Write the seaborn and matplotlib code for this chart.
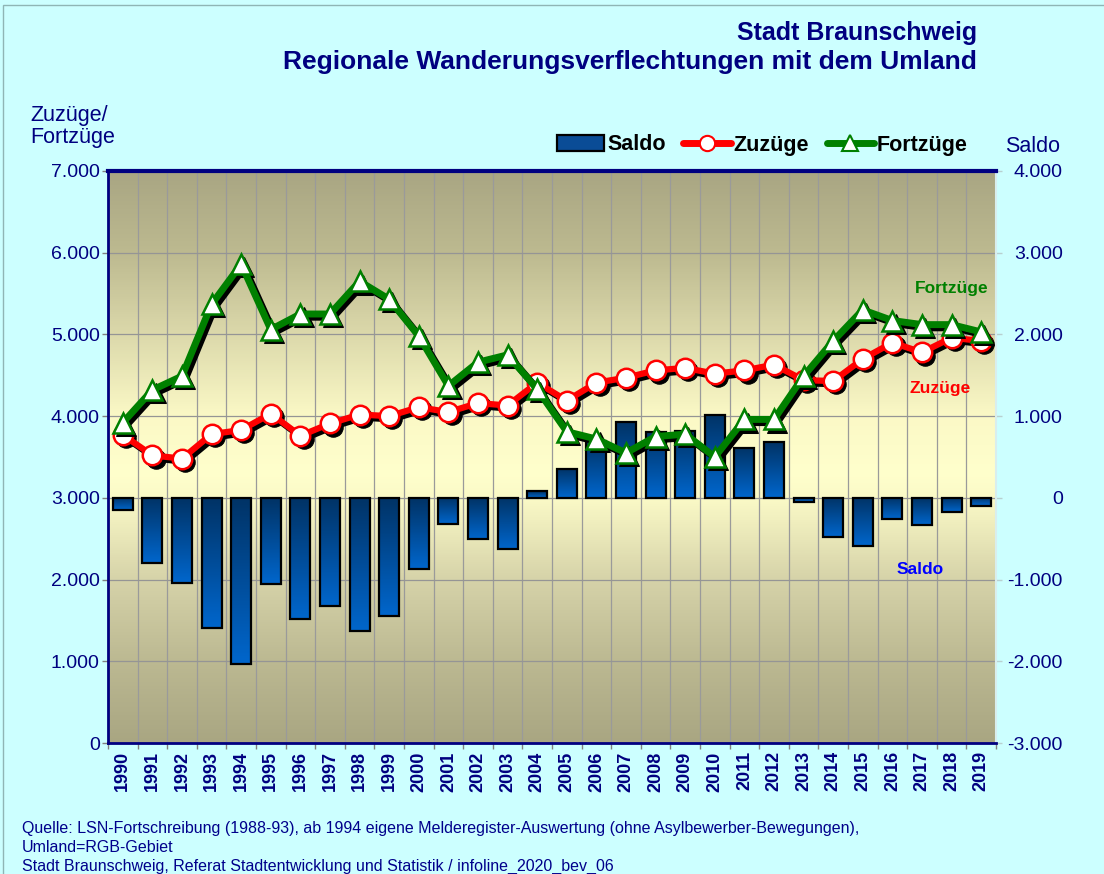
import numpy as np
import pandas as pd
import seaborn as sns
import matplotlib
matplotlib.use("Agg")
import matplotlib.pyplot as plt
from matplotlib.colors import LinearSegmentedColormap
from matplotlib.transforms import ScaledTranslation
from matplotlib.patches import Patch, Rectangle
from matplotlib.lines import Line2D

# ---------------- data ----------------
years = list(range(1990, 2020))
zuzuege = [3770, 3520, 3480, 3780, 3830, 4030, 3760, 3910, 4020, 4000,
           4110, 4050, 4160, 4130, 4410, 4190, 4410, 4470, 4560, 4590,
           4520, 4560, 4630, 4440, 4430, 4700, 4900, 4780, 4960, 4920]
fortzuege = [3920, 4320, 4490, 5370, 5860, 5060, 5250, 5250, 5650, 5430,
             4980, 4370, 4660, 4750, 4330, 3810, 3720, 3550, 3750, 3780,
             3500, 3960, 3960, 4490, 4920, 5300, 5170, 5120, 5120, 5030]
saldo = [-150, -800, -1040, -1590, -2035, -1050, -1480, -1325, -1630, -1445,
         -865, -325, -500, -630, 80, 355, 690, 930, 810, 820,
         1017, 615, 680, -50, -480, -590, -262, -330, -175, -98]
left_ticks = list(range(0, 7001, 1000))
right_ticks = list(range(-3000, 4001, 1000))

title1 = "Stadt Braunschweig"
title2 = "Regionale Wanderungsverflechtungen mit dem Umland"
footer = ["Quelle: LSN-Fortschreibung (1988-93), ab 1994 eigene Melderegister-Auswertung (ohne Asylbewerber-Bewegungen),",
          "Umland=RGB-Gebiet",
          "Stadt Braunschweig, Referat Stadtentwicklung und Statistik / infoline_2020_bev_06"]

def fmt(v):
    return f"{v:,.0f}".replace(",", ".")

# ---------------- style ----------------
sns.set_theme(style="white")
plt.rcParams['font.family'] = ['Liberation Sans', 'DejaVu Sans']

NAVY = '#000080'
W, H = 1104, 874
fig = plt.figure(figsize=(W / 100, H / 100), dpi=100, facecolor='#CCFFFF')
ax = fig.add_axes([108 / W, 1 - 743 / H, 888 / W, 572 / H])
ax2 = ax.twinx()

# background gradient of plot area
stops = [(0, '#A9A682'), (1000, '#BCB992'), (2000, '#D6D3A9'), (3000, '#FBFAC7'),
         (3300, '#FFFFCC'), (4000, '#FBF9C6'), (5000, '#DCD9AB'), (6000, '#BDBA90'),
         (7000, '#A9A683')]
bg_cmap = LinearSegmentedColormap.from_list('bg', [(p / 7000, c) for p, c in stops])
ax.imshow(np.linspace(1, 0, 600).reshape(-1, 1), cmap=bg_cmap, vmin=0, vmax=1,
          extent=[-0.5, 29.5, -3000, 4000], aspect='auto', zorder=0)

# ---------------- bars (Saldo, right scale) ----------------
df = pd.DataFrame({'Jahr': [str(y) for y in years], 'Saldo': saldo})
sns.barplot(data=df, x='Jahr', y='Saldo', ax=ax, color='#0A4C96', saturation=1,
            width=0.68, edgecolor='black', linewidth=1.6, zorder=3)
bar_cmap = LinearSegmentedColormap.from_list('bar', ['#0066CC', '#003366'])
for p in ax.patches:
    x0, y0, w, h = p.get_x(), p.get_y(), p.get_width(), p.get_height()
    lo, hi = min(y0, y0 + h), max(y0, y0 + h)
    im = ax.imshow(np.linspace(1, 0, 100).reshape(-1, 1), cmap=bar_cmap, vmin=0, vmax=1,
                   extent=[x0, x0 + w, lo, hi], aspect='auto', zorder=2.9)
    im.set_clip_path(p)
    p.set_facecolor('none')

# ---------------- lines (left scale) ----------------
idx = np.arange(len(years))
shadow = ax2.transData + ScaledTranslation(2.3 / 72, -2.3 / 72, fig.dpi_scale_trans)

sns.lineplot(x=idx, y=zuzuege, ax=ax2, color='black', lw=4.5, marker='o', markersize=14,
             markerfacecolor='black', markeredgecolor='black', transform=shadow, zorder=3)
sns.lineplot(x=idx, y=zuzuege, ax=ax2, color='#FF0000', lw=4.5, marker='o', markersize=14,
             markerfacecolor='white', markeredgecolor='#FF0000', markeredgewidth=1.8, zorder=4)
sns.lineplot(x=idx, y=fortzuege, ax=ax2, color='black', lw=5, marker='^', markersize=15,
             markerfacecolor='black', markeredgecolor='black', transform=shadow, zorder=5)
sns.lineplot(x=idx, y=fortzuege, ax=ax2, color='#008000', lw=5, marker='^', markersize=15,
             markerfacecolor='white', markeredgecolor='#008000', markeredgewidth=1.8, zorder=6)

# ---------------- axes ----------------
ax.set_xlim(-0.5, 29.5)
ax.set_ylim(-3000, 4000)
ax2.set_ylim(0, 7000)
ax.set_xlabel('')
ax.set_ylabel('')
ax2.set_xlabel('')
ax2.set_ylabel('')

ax.set_axisbelow(True)
ax.grid(False)
ax.set_yticks(right_ticks)
ax.set_yticklabels([fmt(v) for v in right_ticks])
ax.yaxis.tick_right()
ax.tick_params(axis='y', which='major', right=True, left=False, length=4, width=1,
               color='#B8D0D0', labelsize=14, labelcolor=NAVY, pad=44)
for lbl in ax.get_yticklabels():
    lbl.set_horizontalalignment('right')
ax.grid(axis='y', which='major', color='#959595', lw=0.9)

ax.set_xticks(idx)
ax.set_xticklabels([str(y) for y in years], rotation=90, fontweight='bold',
                   fontsize=13, color=NAVY)
ax.tick_params(axis='x', which='major', bottom=True, length=0, pad=6)
ax.set_xticks(np.arange(-0.5, 30, 1), minor=True)
ax.tick_params(axis='x', which='minor', bottom=True, length=4, width=1, color='#808080')
ax.grid(axis='x', which='minor', color='#9A9A9A', lw=0.9)

ax2.set_yticks(left_ticks)
ax2.set_yticklabels([fmt(v) for v in left_ticks])
ax2.yaxis.tick_left()
ax2.tick_params(axis='y', which='major', left=True, right=False, length=4, width=1,
                color='#808080', labelsize=14, labelcolor=NAVY, pad=2)

for s in ax.spines.values():
    s.set_visible(False)
ax2.spines['left'].set_color(NAVY)
ax2.spines['left'].set_linewidth(2)
ax2.spines['bottom'].set_color(NAVY)
ax2.spines['bottom'].set_linewidth(2)
ax2.spines['top'].set_color(NAVY)
ax2.spines['top'].set_linewidth(3)
ax2.spines['right'].set_color('#D8EEEE')
ax2.spines['right'].set_linewidth(1.5)

# ---------------- texts ----------------
def fx(x):
    return x / W

def fy(y):
    return 1 - y / H

fig.text(fx(977), fy(33), title1, ha='right', va='center', fontsize=18,
         fontweight='bold', color=NAVY)
fig.text(fx(977), fy(62), title2, ha='right', va='center', fontsize=19,
         fontweight='bold', color=NAVY)
fig.text(fx(30), fy(116), "Zuzüge/", ha='left', va='center', fontsize=15.5, color=NAVY)
fig.text(fx(30), fy(138), "Fortzüge", ha='left', va='center', fontsize=15.5, color=NAVY)
fig.text(fx(1005), fy(146), "Saldo", ha='left', va='center', fontsize=15.5, color=NAVY)

fig.text(fx(952), fy(289), "Fortzüge", ha='center', va='center', fontsize=12.5,
         fontweight='bold', color='#008000')
fig.text(fx(940), fy(388), "Zuzüge", ha='center', va='center', fontsize=12.5,
         fontweight='bold', color='#FF0000')
fig.text(fx(920), fy(569), "Saldo", ha='center', va='center', fontsize=12.5,
         fontweight='bold', color='#0000FF')

for yy, t in zip([828, 847, 866], footer):
    fig.text(fx(22), fy(yy), t, ha='left', va='center', fontsize=11.5, color='#00008B')

# legend
handles = [Patch(facecolor='#0A4C96', edgecolor='black', linewidth=1.6),
           Line2D([], [], color='#FF0000', lw=5, marker='o', markersize=11,
                  markerfacecolor='white', markeredgecolor='#FF0000', markeredgewidth=1.5),
           Line2D([], [], color='#008000', lw=5, marker='^', markersize=12,
                  markerfacecolor='white', markeredgecolor='#008000', markeredgewidth=1.5)]
fig.legend(handles, ["Saldo", "Zuzüge", "Fortzüge"], loc='center right',
           bbox_to_anchor=(fx(968), fy(145)), ncol=3, frameon=False, labelcolor='black',
           prop={'weight': 'bold', 'size': 15.5}, handlelength=2.2, handleheight=0.7,
           handletextpad=0.15, columnspacing=0.8, borderpad=0, borderaxespad=0)

# thin frame of the chart area
fig.patches.append(Rectangle((fx(3), -0.05), 1.2, 1.05 - 5 / H, transform=fig.transFigure,
                             facecolor='none', edgecolor='#8FB5B5', lw=1))

fig.savefig('out.png', dpi=100, facecolor=fig.get_facecolor())
